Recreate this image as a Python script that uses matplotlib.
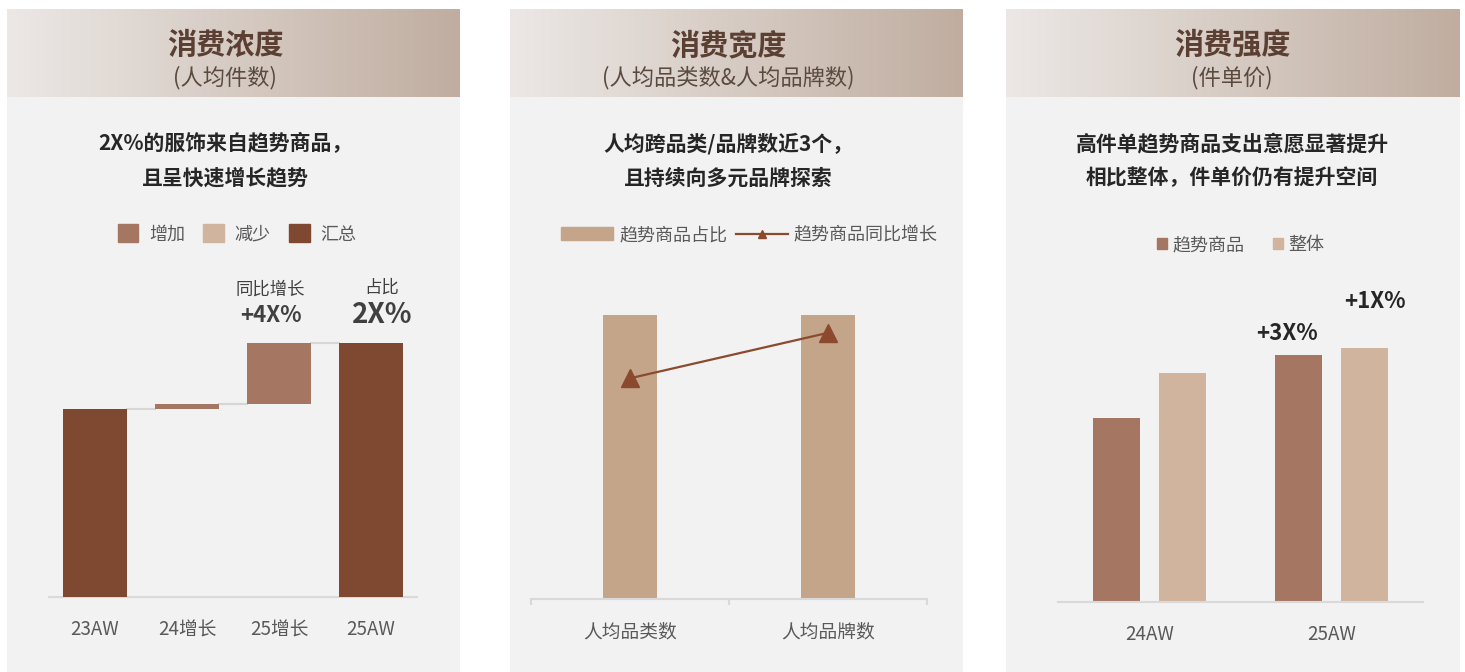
import numpy as np
import matplotlib
matplotlib.use("Agg")
import matplotlib.pyplot as plt
from matplotlib.patches import Rectangle, Patch
from matplotlib.lines import Line2D
from matplotlib.colors import LinearSegmentedColormap

plt.rcParams['font.family'] = ['Noto Sans CJK SC', 'DejaVu Sans']

W, H = 1465, 672

# ---- data ----
titles = ['消费浓度', '消费宽度', '消费强度']
subtitles = ['(人均件数)', '(人均品类数&人均品牌数)', '(件单价)']
notes = [['2X%的服饰来自趋势商品，', '且呈快速增长趋势'],
         ['人均跨品类/品牌数近3个，', '且持续向多元品牌探索'],
         ['高件单趋势商品支出意愿显著提升', '相比整体，件单价仍有提升空间']]

p1_cats = ['23AW', '24增长', '25增长', '25AW']
p1_vals = [18.5, 0.5, 6.0, 25.0]
p1_kind = ['total', 'inc', 'inc', 'total']
p1_legend = ['增加', '减少', '汇总']

p2_cats = ['人均品类数', '人均品牌数']
p2_share = [2.8, 2.8]
p2_growth = [0.34, 0.41]
p2_legend = ['趋势商品占比', '趋势商品同比增长']

p3_cats = ['24AW', '25AW']
p3_trend = [184, 247]
p3_all = [229, 254]
p3_series = ['趋势商品', '整体']
p3_growth_labels = ['+3X%', '+1X%']

# colors
c_total = '#7f4830'
c_inc = '#a57762'
c_dec = '#d0b49e'
c_share = '#c4a58a'
c_line = '#8b4a2e'
c_axis = '#d9d9d9'
c_tick = '#595959'

fig = plt.figure(figsize=(W / 100, H / 100), dpi=100)
fig.patch.set_facecolor('white')


def px_axes(x0, y0, x1, y1, **kw):
    return fig.add_axes([x0 / W, 1 - y1 / H, (x1 - x0) / W, (y1 - y0) / H], **kw)


# background: panels, header gradients, header text
bg = px_axes(0, 0, W, H, zorder=-1)
panels = [(7, 460), (510, 963), (1006, 1460)]
centers = [225, 728, 1232]
grad = LinearSegmentedColormap.from_list('hdr', ['#ece8e6', '#d6cbc3', '#c0ada0'])
g = np.linspace(0, 1, 256).reshape(1, -1)
for (x0, x1), cx, t, st, nt in zip(panels, centers, titles, subtitles, notes):
    bg.add_patch(Rectangle((x0, 9), x1 - x0, H - 9, color='#f2f2f2', lw=0, zorder=1))
    bg.imshow(g, cmap=grad, extent=(x0, x1, 97, 9), aspect='auto', zorder=2)
    bg.text(cx, 45, t, ha='center', va='center', fontsize=21, fontweight='bold', color='#5b3f33', zorder=3)
    bg.text(cx, 78, st, ha='center', va='center', fontsize=16, color='#5b4a40', zorder=3)
    bg.text(cx, 144, nt[0], ha='center', va='center', fontsize=15, fontweight='bold', color='#262626')
    bg.text(cx, 178, nt[1], ha='center', va='center', fontsize=15, fontweight='bold', color='#262626')
bg.set_xlim(0, W)
bg.set_ylim(H, 0)
bg.axis('off')


def style(ax):
    ax.patch.set_alpha(0)
    for s in ['top', 'right', 'left']:
        ax.spines[s].set_visible(False)
    ax.spines['bottom'].set_color(c_axis)
    ax.spines['bottom'].set_linewidth(1.5)
    ax.set_yticks([])
    ax.tick_params(axis='x', length=0, pad=16, labelsize=13.5, labelcolor=c_tick)


# ---- panel 1: waterfall ----
ax1 = px_axes(49, 292, 417, 597)
style(ax1)
x = np.arange(len(p1_cats))
w1 = 0.685
bottoms, tops = [], []
run = 0
for v, k in zip(p1_vals, p1_kind):
    if k == 'total':
        bottoms.append(0)
        tops.append(v)
        run = v
    else:
        bottoms.append(run)
        tops.append(run + v)
        run += v
heights = [t - b for t, b in zip(tops, bottoms)]
colors = [c_total if k == 'total' else c_inc for k in p1_kind]
ax1.bar(x, heights, bottom=bottoms, width=w1, color=colors, zorder=3)
for i in range(len(x) - 1):
    ax1.plot([x[i] + w1 / 2, x[i + 1] - w1 / 2], [tops[i], tops[i]], color='#d6d6d6', lw=1.5, zorder=2)
ax1.set_xlim(-0.5, 3.5)
ax1.set_ylim(0, 30)
ax1.set_xticks(x)
ax1.set_xticklabels(p1_cats)
ax1.annotate('同比增长', xy=(2, tops[2]), xytext=(-6, 38), textcoords='offset points',
             ha='center', va='center', fontsize=12.5, color='#404040', annotation_clip=False)
ax1.annotate('+4X%', xy=(2, tops[2]), xytext=(-6, 20), textcoords='offset points',
             ha='center', va='center', fontsize=16, fontweight='bold', color='#404040', annotation_clip=False)
ax1.annotate('占比', xy=(3, tops[3]), xytext=(8, 40), textcoords='offset points',
             ha='center', va='center', fontsize=12.5, color='#404040', annotation_clip=False)
ax1.annotate('2X%', xy=(3, tops[3]), xytext=(8, 20), textcoords='offset points',
             ha='center', va='center', fontsize=20, fontweight='bold', color='#404040', annotation_clip=False)
h1 = [Patch(color=c) for c in [c_inc, c_dec, c_total]]
fig.legend(h1, p1_legend, loc='center', bbox_to_anchor=(237 / W, 1 - 234 / H), ncol=3, frameon=False,
           fontsize=13, labelcolor=c_tick, handlelength=1.15, handleheight=1.15,
           handletextpad=0.6, columnspacing=1.0)

# ---- panel 2: bars + line ----
ax2 = px_axes(531, 274.4, 927, 599)
style(ax2)
x2 = np.arange(len(p2_cats))
ax2.bar(x2, p2_share, width=0.27, color=c_share, zorder=2)
ax2.set_xlim(-0.5, 1.5)
ax2.set_ylim(0, 3.2)
ax2.set_xticks(x2)
ax2.set_xticklabels(p2_cats)
ax2.set_xticks([-0.5, 0.5, 1.5], minor=True)
ax2.tick_params(axis='x', which='minor', length=4.3, width=1.5, color=c_axis, direction='out')
ax2b = ax2.twinx()
ax2b.patch.set_alpha(0)
ax2b.axis('off')
ax2b.plot(x2, p2_growth, color=c_line, lw=1.6, marker='^', markersize=13, zorder=3)
ax2b.set_ylim(0, 0.5)
ax2b.set_xlim(-0.5, 1.5)
h2 = [Patch(color=c_share), Line2D([], [], color=c_line, lw=1.6, marker='^', markersize=6)]
fig.legend(h2, p2_legend, loc='center', bbox_to_anchor=(749.5 / W, 1 - 235 / H), ncol=2, frameon=False,
           fontsize=13, labelcolor=c_tick, handlelength=2.9, handletextpad=0.33, columnspacing=0.45)

# ---- panel 3: grouped bars ----
ax3 = px_axes(1058, 302, 1423, 602)
style(ax3)
x3 = np.arange(len(p3_cats))
w3 = 0.257
off = 0.18
ax3.bar(x3 - off, p3_trend, width=w3, color=c_inc, zorder=2)
ax3.bar(x3 + off, p3_all, width=w3, color=c_dec, zorder=2)
ax3.set_xlim(-0.5, 1.5)
ax3.set_ylim(0, 300)
ax3.set_xticks(x3)
ax3.set_xticklabels(p3_cats)
ax3.annotate(p3_growth_labels[0], xy=(1 - off, p3_trend[1]), xytext=(-8.6, 15.8), textcoords='offset points',
             ha='center', va='center', fontsize=16, fontweight='bold', color='#262626', annotation_clip=False)
ax3.annotate(p3_growth_labels[1], xy=(1 + off, p3_all[1]), xytext=(7.2, 33.8), textcoords='offset points',
             ha='center', va='center', fontsize=16, fontweight='bold', color='#262626', annotation_clip=False)
h3 = [Patch(color=c_inc), Patch(color=c_dec)]
fig.legend(h3, p3_series, loc='center', bbox_to_anchor=(1240.5 / W, 1 - 245 / H), ncol=2, frameon=False,
           fontsize=13, labelcolor=c_tick, handlelength=0.55, handleheight=0.55,
           handletextpad=0.3, columnspacing=1.6)

fig.savefig('out.png', dpi=100)
